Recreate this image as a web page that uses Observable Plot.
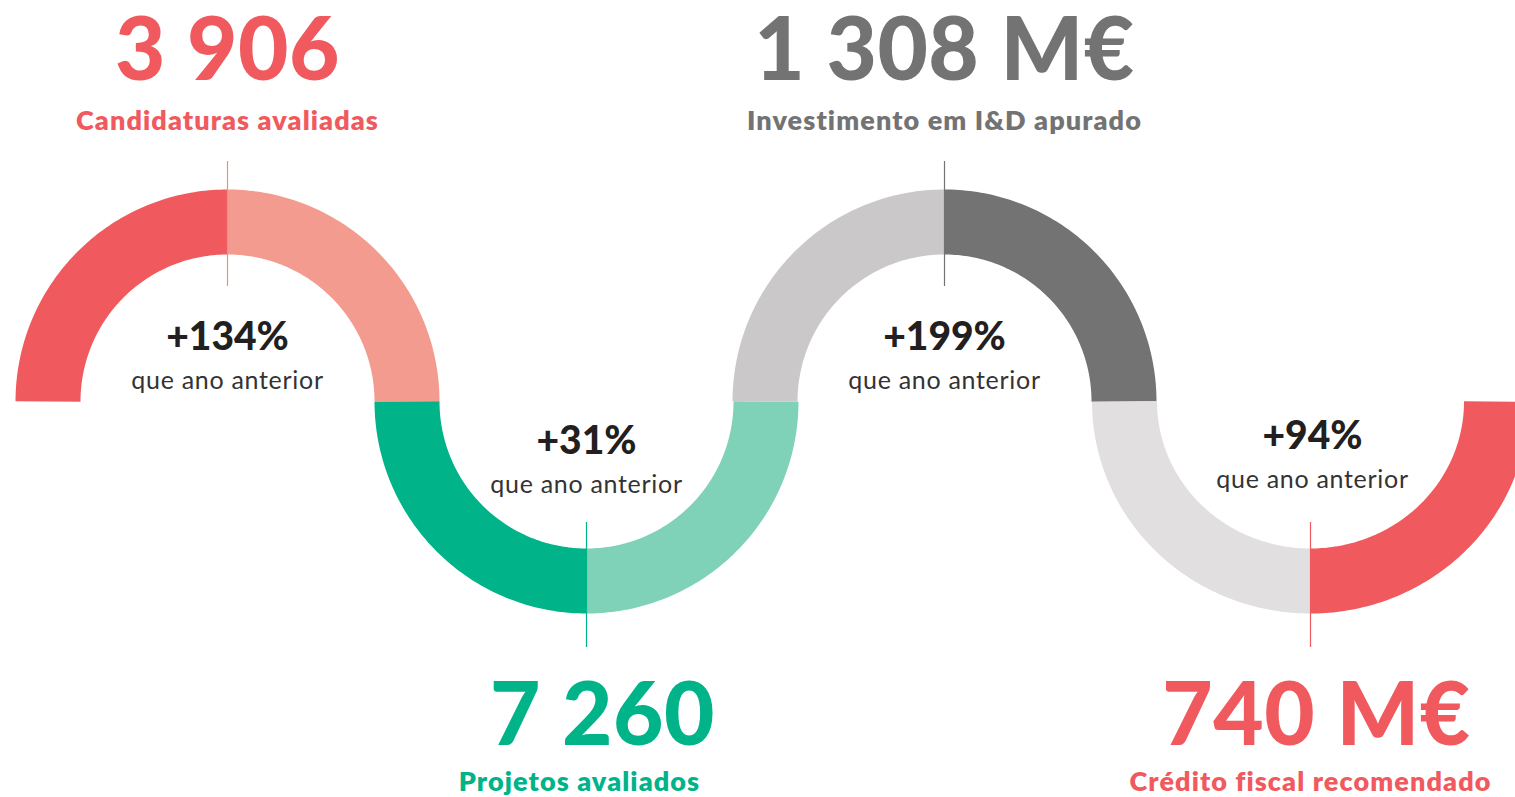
<!DOCTYPE html>
<html>
<head>
<meta charset="utf-8">
<script src="https://cdn.jsdelivr.net/npm/d3@7"></script>
<script src="https://cdn.jsdelivr.net/npm/@observablehq/plot@0.6"></script>
<style>
  html, body { margin: 0; padding: 0; background: #fff; overflow: hidden; }
  #chart svg { display: block; }
</style>
</head>
<body>
<div id="chart"></div>
<script>
// ---- data ----
const metrics = ["Candidaturas avaliadas", "Projetos avaliados", "Investimento em I&D apurado", "Crédito fiscal recomendado"];
const totals = [3906, 7260, 1308, 740];
const units = ["", "", " M€", " M€"];
const growthPct = [134, 31, 199, 94];
const growthNote = "que ano anterior";
const halves = ["anterior", "atual"];

// ---- styles / layout ----
const halfColors = [["#F05A5E", "#F49B8F"], ["#00B388", "#7FD1B7"], ["#CAC8C9", "#737373"], ["#E1DFE0", "#F05A5E"]];
const textColors = ["#F05A5E", "#00B388", "#737373", "#F05A5E"];
const tickColors = ["#F08A8C", "#00B388", "#737373", "#F05A5E"];
const cx = [227, 586, 944, 1310];
const cy = 401;
const dir = [1, -1, 1, -1]; // 1 = hump up
const rxMid = [179.5, 179.5, 179.5, 186];
const ryMid = 179.5;
const band = 65;

const fmt = v => d3.format(",")(v).replace(/,/g, " ");

// arc paths: each half of each arc is a quarter of an ellipse
const arcPts = [];
metrics.forEach((m, i) => {
  halves.forEach((h, j) => {
    const a0 = j === 0 ? Math.PI : Math.PI / 2;
    const a1 = j === 0 ? Math.PI / 2 : 0;
    const n = 90;
    for (let k = 0; k <= n; k++) {
      const a = a0 + (a1 - a0) * k / n;
      arcPts.push({
        key: m + "|" + h,
        color: halfColors[i][j],
        x: cx[i] + rxMid[i] * Math.cos(a),
        y: cy - dir[i] * ryMid * Math.sin(a)
      });
    }
  });
});

const rows = metrics.map((m, i) => ({
  metric: m,
  total: fmt(totals[i]) + units[i],
  growth: "+" + growthPct[i] + "%",
  i
}));

const upRows = rows.filter(d => dir[d.i] === 1);
const downRows = rows.filter(d => dir[d.i] === -1);

const font = "Lato, 'Open Sans', sans-serif";

const chart = Plot.plot({
  width: 1515,
  height: 797,
  margin: 0,
  style: { fontFamily: font, background: "#fff", overflow: "visible" },
  x: { domain: [0, 1515], range: [0, 1515], axis: null },
  y: { domain: [0, 797], range: [0, 797], axis: null },
  marks: [
    Plot.line(arcPts, {
      x: "x", y: "y", z: "key", stroke: d => d.color,
      strokeWidth: band, strokeLinecap: "butt", strokeLinejoin: "round"
    }),
    Plot.ruleX(rows, {
      x: d => cx[d.i],
      y1: d => dir[d.i] === 1 ? 161 : 522,
      y2: d => dir[d.i] === 1 ? 286 : 647,
      stroke: d => tickColors[d.i], strokeWidth: 1.2
    }),
    Plot.text(upRows, {
      x: d => cx[d.i], y: 79, text: "total", fill: d => textColors[d.i],
      fontSize: 87, fontWeight: 900, textAnchor: "middle", lineAnchor: "bottom"
    }),
    Plot.text(downRows, {
      x: d => cx[d.i] + (d.i === 1 ? 16 : 6), y: 744, text: "total", fill: d => textColors[d.i],
      fontSize: 87, fontWeight: 900, textAnchor: "middle", lineAnchor: "bottom"
    }),
    Plot.text(upRows, {
      x: d => cx[d.i], y: 129, text: "metric", fill: d => textColors[d.i],
      fontSize: 27, fontWeight: 800, textAnchor: "middle", lineAnchor: "bottom"
    }),
    Plot.text(downRows, {
      x: d => cx[d.i] - (d.i === 1 ? 7 : 0), y: 790, text: "metric", fill: d => textColors[d.i],
      fontSize: 27, fontWeight: 800, textAnchor: "middle", lineAnchor: "bottom"
    }),
    Plot.text(rows, {
      x: d => cx[d.i] + (d.i === 3 ? 2 : 0), y: d => dir[d.i] === 1 ? 349 : (d.i === 1 ? 453 : 448),
      text: "growth", fill: "#231F20",
      fontSize: 39, fontWeight: 900, textAnchor: "middle", lineAnchor: "bottom"
    }),
    Plot.text(rows, {
      x: d => cx[d.i] + (d.i === 3 ? 2 : 0), y: d => dir[d.i] === 1 ? 388 : (d.i === 1 ? 492 : 487),
      text: () => growthNote, fill: "#333",
      fontSize: 25, fontWeight: 400, textAnchor: "middle", lineAnchor: "bottom"
    })
  ]
});
const sel = d3.select(chart);
sel.selectAll('g[font-size="27"]').attr("letter-spacing", "1.1px");
sel.selectAll('g[font-size="25"]').attr("letter-spacing", "0.7px");
sel.selectAll('g[font-size="87"]').attr("letter-spacing", "0.5px");
document.getElementById("chart").appendChild(chart);
</script>
</body>
</html>
